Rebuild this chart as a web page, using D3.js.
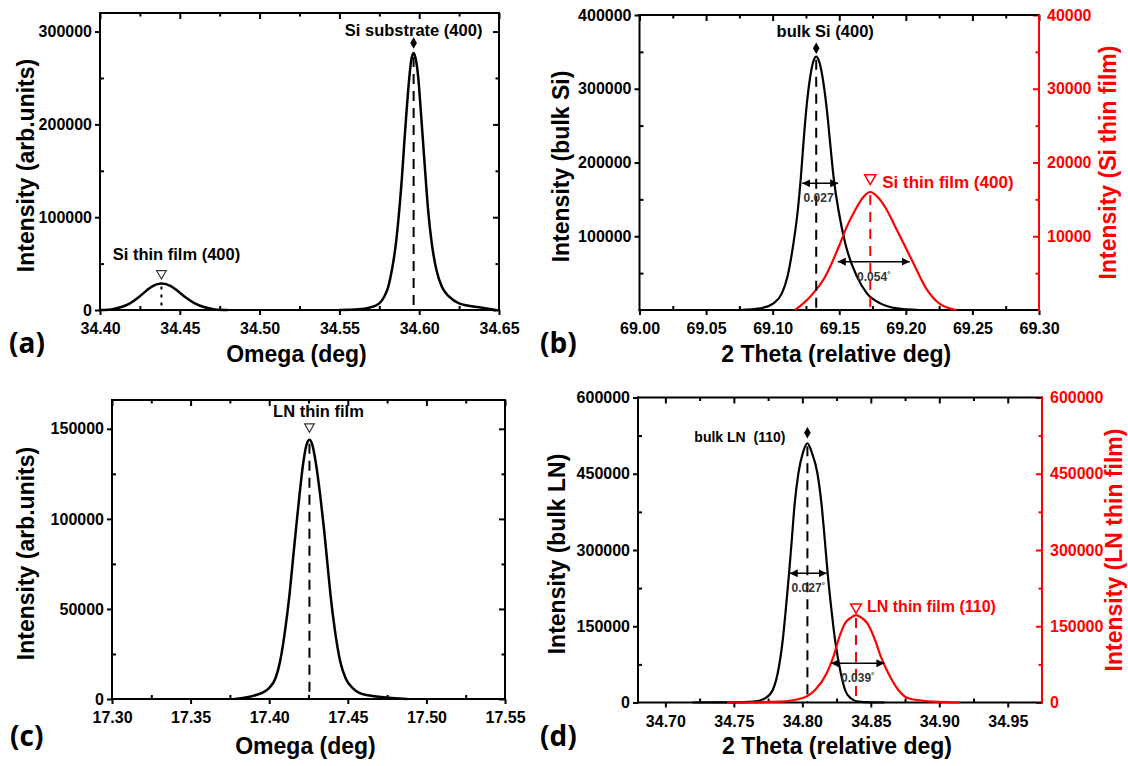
<!DOCTYPE html>
<html>
<head>
<meta charset="utf-8">
<script src="https://cdn.jsdelivr.net/npm/d3@7"></script>
<style>
  body { margin: 0; background: #fff; }
  svg { display: block; }
</style>
</head>
<body>
<svg id="fig" width="1128" height="766"></svg>
<script>
// ---------- (a) omega scan, Si film + Si substrate ----------
const omegaSiFilmX = [34.400, 34.407, 34.4129, 34.4188, 34.4246, 34.4296, 34.4330, 34.4385, 34.4444, 34.4479, 34.4531, 34.4594, 34.4656, 34.472, 34.480];
const omegaSiFilmY = [0, 600, 2900, 7200, 14300, 21500, 25800, 28600, 25800, 21500, 14300, 7200, 2900, 600, 0];
const omegaSiSubX = [34.550, 34.562, 34.5688, 34.575, 34.5781, 34.5806, 34.5829, 34.5854, 34.5875, 34.5892, 34.5906, 34.5921, 34.5938, 34.5950, 34.5965, 34.5980, 34.5994, 34.6010, 34.6025, 34.6040, 34.6056, 34.6079, 34.6108, 34.6142, 34.6188, 34.625, 34.6394, 34.648];
const omegaSiSubY = [0, 700, 2500, 7200, 14300, 25000, 43000, 71600, 107400, 143200, 179000, 214800, 250500, 269000, 277000, 269000, 250500, 214800, 179000, 143200, 107400, 71600, 43000, 25000, 14300, 7200, 2500, 0];

// ---------- (b) 2theta scan, bulk Si + Si thin film ----------
const bulkSiX = [69.075, 69.0906, 69.1006, 69.1069, 69.1111, 69.1156, 69.1189, 69.1212, 69.1231, 69.1252, 69.1282, 69.1307, 69.1327, 69.1347, 69.1374, 69.1407, 69.1432, 69.1457, 69.1494, 69.1545, 69.1633, 69.1708, 69.1808, 69.1933, 69.210];
const bulkSiY = [0, 2300, 9000, 22600, 45200, 90400, 135600, 180700, 226000, 271200, 316300, 338000, 343500, 338000, 316300, 271200, 226000, 180700, 135600, 90400, 45200, 22600, 9000, 2300, 0];
const filmSiX = [69.1169, 69.1282, 69.1394, 69.1507, 69.1557, 69.1620, 69.1683, 69.1733, 69.1790, 69.1850, 69.1915, 69.1983, 69.2058, 69.2150, 69.2250, 69.2380];
const filmSiY = [0, 1800, 4500, 9040, 11300, 13560, 15360, 16000, 15300, 13800, 11500, 9040, 6300, 3000, 900, 0];
const fwhmCentersB = [69.1357, 69.1759];
const fwhmWidthsB = [0.027, 0.054];
const fwhmLevelsB = [171800, 6550];          // second level in thin-film units

// ---------- (c) omega scan, LN thin film ----------
const lnOmegaX = [17.378, 17.3916, 17.3997, 17.4040, 17.4069, 17.4103, 17.4129, 17.4150, 17.4171, 17.4193, 17.4218, 17.4237, 17.4256, 17.4275, 17.4295, 17.4324, 17.4348, 17.4369, 17.4390, 17.4416, 17.4452, 17.4486, 17.4533, 17.4618, 17.488];
const lnOmegaY = [0, 2200, 5950, 11500, 20750, 39320, 57840, 76360, 94930, 113460, 132000, 141000, 144000, 141000, 132000, 113460, 94930, 76360, 57840, 39320, 20750, 11500, 5950, 2200, 0];

// ---------- (d) 2theta scan, bulk LN + LN thin film ----------
const bulkLnX = [34.720, 34.750, 34.7642, 34.7728, 34.7784, 34.7820, 34.7857, 34.7881, 34.7903, 34.7923, 34.7942, 34.7971, 34.8004, 34.8037, 34.8070, 34.8110, 34.8142, 34.8164, 34.8185, 34.8210, 34.8239, 34.8281, 34.8312, 34.8354, 34.8409, 34.850, 34.860];
const bulkLnY = [0, 200, 1600, 8260, 24600, 57440, 122950, 188500, 254200, 319700, 385200, 450900, 491000, 510000, 491000, 450900, 385200, 319700, 254200, 188500, 122950, 57440, 24600, 8260, 1600, 200, 0];
const filmLnX = [34.745, 34.7837, 34.7996, 34.8093, 34.8178, 34.8227, 34.8263, 34.8312, 34.8355, 34.8392, 34.8430, 34.8475, 34.8531, 34.8573, 34.8628, 34.8701, 34.8774, 34.895, 34.915];
const filmLnY = [0, 1600, 8260, 24600, 57440, 90100, 122950, 155800, 167000, 172000, 167000, 155800, 122950, 90100, 57440, 24600, 8260, 1600, 0];
const fwhmCentersD = [34.8043, 34.8404];
const fwhmWidthsD = [0.027, 0.039];
const fwhmLevelsD = [254200, 77100];

// ---------- tick values ----------
const xTicksA = [34.40, 34.45, 34.50, 34.55, 34.60, 34.65];
const xMinorA = [34.425, 34.475, 34.525, 34.575, 34.625];
const yTicksA = [0, 100000, 200000, 300000];
const yMinorA = [50000, 150000, 250000];

const xTicksB = [69.00, 69.05, 69.10, 69.15, 69.20, 69.25, 69.30];
const xMinorB = [69.025, 69.075, 69.125, 69.175, 69.225, 69.275];
const yTicksB = [100000, 200000, 300000, 400000];
const yMinorB = [50000, 150000, 250000, 350000];
const y2TicksB = [10000, 20000, 30000, 40000];
const y2MinorB = [5000, 15000, 25000, 35000];

const xTicksC = [17.30, 17.35, 17.40, 17.45, 17.50, 17.55];
const xMinorC = [17.325, 17.375, 17.425, 17.475, 17.525];
const yTicksC = [0, 50000, 100000, 150000];
const yMinorC = [25000, 75000, 125000];

const xTicksD = [34.70, 34.75, 34.80, 34.85, 34.90, 34.95];
const xMinorD = [34.725, 34.775, 34.825, 34.875, 34.925];
const yTicksD = [0, 150000, 300000, 450000, 600000];
const yMinorD = [75000, 225000, 375000, 525000];

// ---------- drawing ----------
const FONT = '"Liberation Sans", Arial, Helvetica, sans-serif';
const RED = "#ff0000";
const TITLE_SIZE = 23;
const svg = d3.select("#fig");

const defs = svg.append("defs");
defs.append("marker")
  .attr("id", "head").attr("viewBox", "0 0 10 10")
  .attr("refX", 10).attr("refY", 5)
  .attr("markerWidth", 8).attr("markerHeight", 8)
  .attr("markerUnits", "userSpaceOnUse")
  .attr("orient", "auto-start-reverse")
  .append("path").attr("d", "M0,0 L10,5 L0,10 z").attr("fill", "#000");

function styleAxis(sel, color) {
  sel.select(".domain").remove();
  sel.attr("font-family", FONT).attr("font-size", 16).attr("font-weight", "bold");
  sel.selectAll(".tick line").attr("stroke", color).attr("stroke-width", 2);
  sel.selectAll(".tick text").attr("fill", color);
}

function addAxis(g, gen, tr, color) {
  const a = g.append("g").attr("transform", tr).call(gen);
  styleAxis(a, color || "#000");
  return a;
}

function drawPanel(p) {
  const g = svg.append("g");
  const x = d3.scaleLinear().domain(p.xDomain).range([p.left, p.right]);
  const y = d3.scaleLinear().domain(p.yDomain).range([p.bottom, p.top]);
  const y2 = p.y2Domain ? d3.scaleLinear().domain(p.y2Domain).range([p.bottom, p.top]) : null;
  const xf = d3.format(".2f"), yf = d3.format("d");

  // bottom / top
  addAxis(g, d3.axisBottom(x).tickValues(p.xTicks).tickSize(5).tickPadding(8).tickFormat(xf), `translate(0,${p.bottom})`);
  addAxis(g, d3.axisBottom(x).tickValues(p.xMinor).tickSize(-4).tickFormat(""), `translate(0,${p.bottom})`);
  addAxis(g, d3.axisTop(x).tickValues(p.xTicks).tickSize(-6).tickFormat(""), `translate(0,${p.top})`);
  addAxis(g, d3.axisTop(x).tickValues(p.xMinor).tickSize(-3.5).tickFormat(""), `translate(0,${p.top})`);
  // left
  addAxis(g, d3.axisLeft(y).tickValues(p.yTicks).tickSize(5).tickPadding(3).tickFormat(yf), `translate(${p.left},0)`);
  addAxis(g, d3.axisLeft(y).tickValues(p.yMinor).tickSize(-4).tickFormat(""), `translate(${p.left},0)`);
  // right
  if (y2) {
    addAxis(g, d3.axisRight(y2).tickValues(p.y2Ticks).tickSize(-6).tickPadding(8).tickFormat(yf), `translate(${p.right},0)`, RED);
    addAxis(g, d3.axisRight(y2).tickValues(p.y2Minor).tickSize(-3.5).tickFormat(""), `translate(${p.right},0)`, RED);
  } else {
    addAxis(g, d3.axisRight(y).tickValues(p.yTicks).tickSize(-6).tickFormat(""), `translate(${p.right},0)`);
    addAxis(g, d3.axisRight(y).tickValues(p.yMinor).tickSize(-3.5).tickFormat(""), `translate(${p.right},0)`);
  }

  // frame
  const frame = [
    [p.left, p.top, p.right, p.top, "#000"],
    [p.left, p.bottom, p.right, p.bottom, "#000"],
    [p.left, p.top, p.left, p.bottom, "#000"],
    [p.right, p.top, p.right, p.bottom, y2 ? RED : "#000"]
  ];
  g.selectAll("line.frame").data(frame).join("line")
    .attr("class", "frame")
    .attr("x1", d => d[0]).attr("y1", d => d[1])
    .attr("x2", d => d[2]).attr("y2", d => d[3])
    .attr("stroke", d => d[4]).attr("stroke-width", 2)
    .attr("stroke-linecap", "square");

  // axis titles
  g.append("text")
    .attr("x", (p.left + p.right) / 2 - 3).attr("y", p.xTitleY)
    .attr("text-anchor", "middle")
    .attr("font-family", FONT).attr("font-weight", "bold").attr("font-size", TITLE_SIZE)
    .text(p.xTitle);
  g.append("text")
    .attr("transform", `translate(${p.yTitleX},${(p.top + p.bottom) / 2 + 4}) rotate(-90)`)
    .attr("text-anchor", "middle").attr("dominant-baseline", "central")
    .attr("font-family", FONT).attr("font-weight", "bold").attr("font-size", TITLE_SIZE)
    .text(p.yTitle);
  if (p.y2Title) {
    g.append("text")
      .attr("transform", `translate(${p.y2TitleX},${(p.top + p.bottom) / 2}) rotate(-90)`)
      .attr("text-anchor", "middle").attr("dominant-baseline", "central")
      .attr("fill", RED)
      .attr("font-family", FONT).attr("font-weight", "bold").attr("font-size", TITLE_SIZE)
      .text(p.y2Title);
  }
  // panel tag
  g.append("text")
    .attr("x", p.tagX).attr("y", p.tagY)
    .attr("font-family", '"Open Sans", "Liberation Sans", sans-serif')
    .attr("font-weight", "bold").attr("font-size", 28)
    .text(p.tag);

  return { g, x, y, y2 };
}

function curve(g, xs, ys, x, y, color, width) {
  const line = d3.line().x(d => x(d[0])).y(d => y(d[1])).curve(d3.curveMonotoneX);
  g.append("path").datum(d3.zip(xs, ys))
    .attr("d", line).attr("fill", "none")
    .attr("stroke", color).attr("stroke-width", width)
    .attr("stroke-linejoin", "round");
}

function peakOf(xs, ys) {
  const i = d3.maxIndex(ys);
  return [xs[i], ys[i]];
}

function dropLine(g, px, py, baseY, color, dash) {
  g.append("line")
    .attr("x1", px).attr("x2", px).attr("y1", py).attr("y2", baseY)
    .attr("stroke", color).attr("stroke-width", 2).attr("stroke-dasharray", dash);
}

function diamond(g, px, py) {
  g.append("path")
    .attr("d", d3.symbol(d3.symbolDiamond, 38)())
    .attr("transform", `translate(${px},${py})`)
    .attr("fill", "#000");
}

function downTriangle(g, px, py, color, size, sw) {
  g.append("path")
    .attr("d", d3.symbol(d3.symbolTriangle, size)())
    .attr("transform", `translate(${px},${py}) rotate(180)`)
    .attr("fill", "#fff").attr("stroke", color).attr("stroke-width", sw);
}

function note(g, px, py, txt, anchor, color, size) {
  g.append("text")
    .attr("x", px).attr("y", py)
    .attr("text-anchor", anchor)
    .attr("fill", color)
    .attr("font-family", FONT).attr("font-weight", "bold").attr("font-size", size)
    .text(txt);
}

function fwhmArrow(g, x, yScale, c, w, level) {
  const x1 = x(c - w / 2), x2 = x(c + w / 2), yy = yScale(level);
  g.append("line")
    .attr("x1", x1).attr("x2", x2).attr("y1", yy).attr("y2", yy)
    .attr("stroke", "#000").attr("stroke-width", 1.6)
    .attr("marker-start", "url(#head)").attr("marker-end", "url(#head)");
  const t = g.append("text")
    .attr("x", (x1 + x2) / 2).attr("y", yy + 19)
    .attr("text-anchor", "middle").attr("fill", "#333")
    .attr("font-family", FONT).attr("font-weight", "bold").attr("font-size", 12);
  t.append("tspan").text(d3.format(".3f")(w));
  t.append("tspan").attr("font-size", 8).attr("dy", -4).text("°");
}

// ----- panel (a)
{
  const P = drawPanel({
    left: 100, right: 499, top: 13, bottom: 310,
    xDomain: [34.40, 34.65], yDomain: [0, 320000],
    xTicks: xTicksA, xMinor: xMinorA, yTicks: yTicksA, yMinor: yMinorA,
    xTitle: "Omega (deg)", xTitleY: 362,
    yTitle: "Intensity (arb.units)", yTitleX: 26,
    tag: "(a)", tagX: 9, tagY: 353
  });
  const { g, x, y } = P;
  curve(g, omegaSiFilmX, omegaSiFilmY, x, y, "#000", 2.5);
  curve(g, omegaSiSubX, omegaSiSubY, x, y, "#000", 2.5);
  const [sx, sy] = peakOf(omegaSiSubX, omegaSiSubY);
  dropLine(g, x(sx), y(sy) + 4, y(0), "#000", "10,7");
  diamond(g, x(sx), y(sy) - 10);
  note(g, x(sx), y(sy) - 17, "Si substrate (400)", "middle", "#000", 16.5);
  const [fx, fy] = peakOf(omegaSiFilmX, omegaSiFilmY);
  dropLine(g, x(fx), y(fy) + 3, y(0), "#000", "3,5");
  downTriangle(g, x(fx), y(fy) - 10, "#333", 40, 1.2);
  note(g, x(fx) + 15, y(fy) - 23, "Si thin film (400)", "middle", "#000", 16.5);
}

// ----- panel (b)
{
  const P = drawPanel({
    left: 639.5, right: 1039, top: 15, bottom: 310,
    xDomain: [69.00, 69.30], yDomain: [0, 400000], y2Domain: [0, 40000],
    xTicks: xTicksB, xMinor: xMinorB, yTicks: yTicksB, yMinor: yMinorB,
    y2Ticks: y2TicksB, y2Minor: y2MinorB,
    xTitle: "2 Theta (relative deg)", xTitleY: 362,
    yTitle: "Intensity (bulk Si)", yTitleX: 561,
    y2Title: "Intensity (Si thin film)", y2TitleX: 1108,
    tag: "(b)", tagX: 540, tagY: 353
  });
  const { g, x, y, y2 } = P;
  curve(g, bulkSiX, bulkSiY, x, y, "#000", 2.2);
  curve(g, filmSiX, filmSiY, x, y2, RED, 2.2);
  const [bx, by] = peakOf(bulkSiX, bulkSiY);
  dropLine(g, x(bx), y(by) + 3, y(0), "#000", "10,7");
  diamond(g, x(bx), y(by) - 8.5);
  note(g, x(bx) + 9, y(by) - 20, "bulk Si (400)", "middle", "#000", 16.5);
  const [fx, fy] = peakOf(filmSiX, filmSiY);
  dropLine(g, x(fx), y2(fy) + 3, y2(0), RED, "10,7");
  downTriangle(g, x(fx), y2(fy) - 14, RED, 55, 1.5);
  note(g, x(fx) + 12, y2(fy) - 4.5, "Si thin film (400)", "start", RED, 17);
  fwhmArrow(g, x, y, fwhmCentersB[0], fwhmWidthsB[0], fwhmLevelsB[0]);
  fwhmArrow(g, x, y2, fwhmCentersB[1], fwhmWidthsB[1], fwhmLevelsB[1]);
}

// ----- panel (c)
{
  const P = drawPanel({
    left: 112, right: 505, top: 400, bottom: 699,
    xDomain: [17.30, 17.55], yDomain: [0, 166000],
    xTicks: xTicksC, xMinor: xMinorC, yTicks: yTicksC, yMinor: yMinorC,
    xTitle: "Omega (deg)", xTitleY: 754,
    yTitle: "Intensity (arb.units)", yTitleX: 26,
    tag: "(c)", tagX: 10, tagY: 746
  });
  const { g, x, y } = P;
  curve(g, lnOmegaX, lnOmegaY, x, y, "#000", 2.5);
  const [px, py] = peakOf(lnOmegaX, lnOmegaY);
  dropLine(g, x(px), y(py) + 4, y(0), "#000", "10,7");
  downTriangle(g, x(px), y(py) - 13, "#333", 40, 1.2);
  note(g, x(px) + 9, y(py) - 23, "LN thin film", "middle", "#000", 16.5);
}

// ----- panel (d)
{
  const P = drawPanel({
    left: 638, right: 1042, top: 397.5, bottom: 702.5,
    xDomain: [34.68, 34.975], yDomain: [0, 600000], y2Domain: [0, 600000],
    xTicks: xTicksD, xMinor: xMinorD, yTicks: yTicksD, yMinor: yMinorD,
    y2Ticks: yTicksD, y2Minor: yMinorD,
    xTitle: "2 Theta (relative deg)", xTitleY: 754,
    yTitle: "Intensity (bulk LN)", yTitleX: 557,
    y2Title: "Intensity (LN thin film)", y2TitleX: 1114,
    tag: "(d)", tagX: 540, tagY: 746
  });
  const { g, x, y, y2 } = P;
  curve(g, bulkLnX, bulkLnY, x, y, "#000", 2.2);
  curve(g, filmLnX, filmLnY, x, y2, RED, 2.2);
  const [bx, by] = peakOf(bulkLnX, bulkLnY);
  dropLine(g, x(bx), y(by) + 3, y(0), "#000", "10,7");
  diamond(g, x(bx), y(by) - 10.5);
  note(g, x(bx) - 22, y(by) - 1, "bulk LN\u00a0 (110)", "end", "#000", 14);
  const [fx, fy] = peakOf(filmLnX, filmLnY);
  dropLine(g, x(fx), y2(fy) + 3, y2(0), RED, "10,7");
  downTriangle(g, x(fx), y2(fy) - 8, RED, 50, 1.5);
  note(g, x(fx) + 11, y2(fy) - 3, "LN thin film (110)", "start", RED, 16);
  fwhmArrow(g, x, y, fwhmCentersD[0], fwhmWidthsD[0], fwhmLevelsD[0]);
  fwhmArrow(g, x, y2, fwhmCentersD[1], fwhmWidthsD[1], fwhmLevelsD[1]);
}
</script>
</body>
</html>
